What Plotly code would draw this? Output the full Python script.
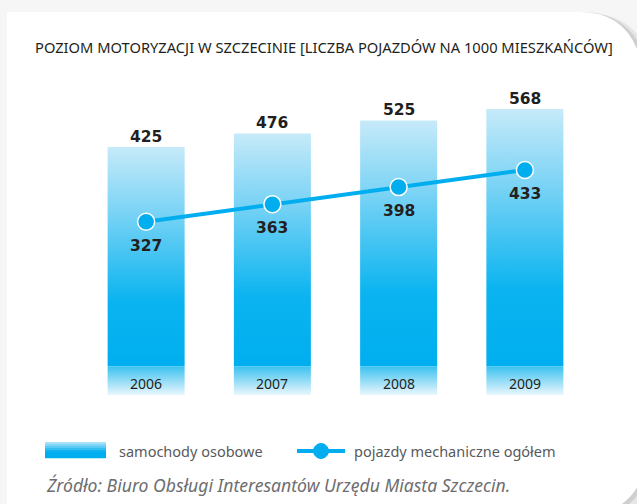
import plotly.graph_objects as go

# ---- data ----
years = ["2006", "2007", "2008", "2009"]
cars = [425, 476, 525, 568]           # samochody osobowe
vehicles = [327, 363, 398, 433]       # pojazdy mechaniczne ogółem
title_text = "POZIOM MOTORYZACJI W SZCZECINIE [LICZBA POJAZDÓW NA 1000 MIESZKAŃCÓW]"
legend_cars = "samochody osobowe"
legend_vehicles = "pojazdy mechaniczne ogółem"
source_text = "Źródło: Biuro Obsługi Interesantów Urzędu Miasta Szczecin."

# ---- layout geometry (pixels) ----
W_FIG, H_FIG = 637, 504
L, R, T, B = 83, 49, 60, 109
PW = W_FIG - L - R
PH = H_FIG - T - B


def px(x):
    return (x - L) / PW


def py(y):
    return (H_FIG - B - y) / PH


BAR_BASE = -400
Y1_RANGE = [-508.5, 752.4]
Y2_RANGE = [-28.3, 658.6]
HALF = 0.305
CYAN = "#00aeef"
DARK = "#231f20"
GREY = "#58595b"

fig = go.Figure()

# bars with vertical gradient
for i, v in enumerate(cars):
    fig.add_trace(go.Scatter(
        x=[i - HALF, i + HALF, i + HALF, i - HALF, i - HALF],
        y=[BAR_BASE, BAR_BASE, v, v, BAR_BASE],
        mode="lines", line=dict(width=0), fill="toself",
        fillgradient=dict(type="vertical",
                          colorscale=[[0, "#00aeef"], [0.3, "#0bb4f0"], [0.7, "#7ad3f5"], [1, "#c6eaf9"]]),
        hoverinfo="skip", showlegend=False))
    # year band
    fig.add_trace(go.Scatter(
        x=[i - HALF, i + HALF, i + HALF, i - HALF, i - HALF],
        y=[Y1_RANGE[0], Y1_RANGE[0], BAR_BASE, BAR_BASE, Y1_RANGE[0]],
        mode="lines", line=dict(width=0), fill="toself",
        fillgradient=dict(type="vertical",
                          colorscale=[[0, "#eaf7fd"], [1, "#3ac1f0"]]),
        hoverinfo="skip", showlegend=False))

# line
fig.add_trace(go.Scatter(
    x=list(range(len(years))), y=vehicles, yaxis="y2",
    mode="lines+markers",
    line=dict(color=CYAN, width=4),
    marker=dict(size=17, color=CYAN, line=dict(color="white", width=1.5)),
    hoverinfo="skip", showlegend=False))

annotations = []
label_font = dict(family="DejaVu Sans", size=15.5, color=DARK, weight="bold")
for i, v in enumerate(cars):
    annotations.append(dict(x=i, y=v, xref="x", yref="y", text=str(v), showarrow=False,
                            yanchor="middle", yshift=10, font=label_font))
for i, v in enumerate(vehicles):
    annotations.append(dict(x=i, y=v, xref="x", yref="y2", text=str(v), showarrow=False,
                            yanchor="middle", yshift=-24, font=label_font))
for i, yr in enumerate(years):
    annotations.append(dict(x=i, y=(BAR_BASE + Y1_RANGE[0]) / 2, xref="x", yref="y", text=yr,
                            showarrow=False, yanchor="middle", yshift=-3,
                            font=dict(family="Noto Sans", size=14, color=DARK)))

annotations.append(dict(x=px(33), y=py(47), xref="paper", yref="paper", text=title_text,
                        showarrow=False, xanchor="left", yanchor="middle",
                        font=dict(family="Noto Sans", size=14.7, color=DARK)))
annotations.append(dict(x=px(117), y=py(451), xref="paper", yref="paper", text=legend_cars,
                        showarrow=False, xanchor="left", yanchor="middle",
                        font=dict(family="Noto Sans", size=14.5, color=GREY)))
annotations.append(dict(x=px(352), y=py(451), xref="paper", yref="paper", text=legend_vehicles,
                        showarrow=False, xanchor="left", yanchor="middle",
                        font=dict(family="Noto Sans", size=14.5, color=GREY)))
annotations.append(dict(x=px(44), y=py(485), xref="paper", yref="paper", text=source_text,
                        showarrow=False, xanchor="left", yanchor="middle",
                        font=dict(family="Noto Sans", size=17.6, color="#6d6e70", style="italic")))

shapes = []


def path(points, close=True):
    s = ""
    for cmd, pts in points:
        s += cmd + " ".join(f"{px(a):.5f},{py(b):.5f}" for a, b in pts) + " "
    return s + ("Z" if close else "")


card = [("M", [(7, 12)]), ("L", [(580, 12)]), ("Q", [(645, 12), (645, 100)]),
        ("L", [(645, 455)]), ("Q", [(645, 500), (600, 515)]), ("L", [(7, 515)])]
shadow_outer = [("M", [(540, 12)]), ("L", [(584, 12)]), ("Q", [(656, 14), (656, 100)]),
                ("L", [(656, 455)]), ("Q", [(652, 508), (604, 524)]), ("L", [(540, 524)])]
shadow_inner = [("M", [(540, 12)]), ("L", [(582, 12)]), ("Q", [(650, 13), (650, 100)]),
                ("L", [(650, 455)]), ("Q", [(648, 504), (602, 519)]), ("L", [(540, 519)])]
shapes.append(dict(type="path", xref="paper", yref="paper", path=path(shadow_outer),
                   fillcolor="#e6e6e6", line=dict(width=0), layer="below"))
shapes.append(dict(type="path", xref="paper", yref="paper", path=path(shadow_inner),
                   fillcolor="#cfcfcf", line=dict(width=0), layer="below"))
shapes.append(dict(type="path", xref="paper", yref="paper", path=path(card),
                   fillcolor="white", line=dict(width=0), layer="below"))

# legend swatch (stacked stripes simulating the gradient)
sw_top, sw_bot = 442, 458
n = 8
c_top = (0xa6, 0xe1, 0xf8)
c_bot = (0x00, 0xae, 0xef)
for k in range(n):
    f = k / (n - 1)
    col = tuple(int(round(c_top[j] + (c_bot[j] - c_top[j]) * min(1, f * 1.6))) for j in range(3))
    y0 = sw_top + (sw_bot - sw_top) * k / n
    y1 = sw_top + (sw_bot - sw_top) * (k + 1) / n
    shapes.append(dict(type="rect", xref="paper", yref="paper",
                       x0=px(45), x1=px(106), y0=py(y1 + 0.3), y1=py(y0),
                       fillcolor="rgb(%d,%d,%d)" % col, line=dict(width=0)))

# legend line + marker
shapes.append(dict(type="line", xref="paper", yref="paper", x0=px(297), x1=px(345),
                   y0=py(451), y1=py(451), line=dict(color=CYAN, width=4)))
shapes.append(dict(type="circle", xref="paper", yref="paper", x0=px(313.5), x1=px(328.5),
                   y0=py(458.5), y1=py(443.5), fillcolor=CYAN, line=dict(color=CYAN, width=1)))

fig.update_layout(
    width=W_FIG, height=H_FIG,
    margin=dict(l=L, r=R, t=T, b=B),
    paper_bgcolor="#f6f6f6", plot_bgcolor="rgba(0,0,0,0)",
    xaxis=dict(range=[-0.5, 3.5], visible=False, fixedrange=True),
    yaxis=dict(range=Y1_RANGE, visible=False, fixedrange=True),
    yaxis2=dict(range=Y2_RANGE, visible=False, overlaying="y", fixedrange=True),
    annotations=annotations, shapes=shapes,
    showlegend=False,
)

fig.write_html("out.html", config={"displayModeBar": False},
               post_script="document.body.style.margin='0';document.body.style.overflow='hidden';")
